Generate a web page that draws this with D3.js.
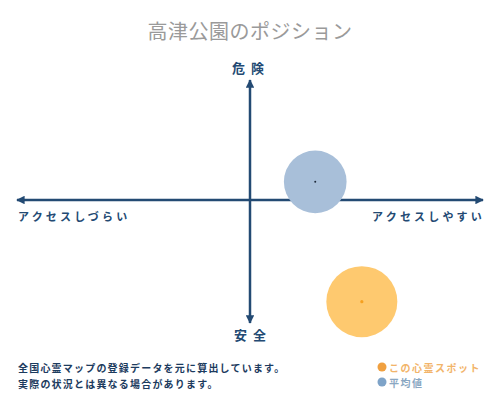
<!DOCTYPE html>
<html>
<head>
<meta charset="utf-8">
<script src="https://cdn.jsdelivr.net/npm/d3@7"></script>
<style>
  body { margin: 0; background: #fff; }
  text { font-family: "Noto Sans CJK JP", sans-serif; }
</style>
</head>
<body>
<div id="chart"></div>
<script>
// chart title and axis labels
var title = "高津公園のポジション";
var axisTop = "危険";
var axisBottom = "安全";
var axisLeft = "アクセスしづらい";
var axisRight = "アクセスしやすい";

// points: x = access (-1 hard .. 1 easy), y = danger (-1 safe .. 1 danger)
var pointNames = ["平均値", "この心霊スポット"];
var pointX = [0.28, 0.48];
var pointY = [0.15, -0.84];
var pointSize = [78, 100];

var notes = ["全国心霊マップの登録データを元に算出しています。", "実際の状況とは異なる場合があります。"];
var legendLabels = ["この心霊スポット", "平均値"];

var width = 500, height = 400;
var navy = "#234a73";

var svg = d3.select("#chart").append("svg")
  .attr("width", width)
  .attr("height", height);

var x = d3.scaleLinear().domain([-1, 1]).range([17, 483]);
var y = d3.scaleLinear().domain([-1, 1]).range([321, 79]);
var r = d3.scaleSqrt().domain([0, 100]).range([0, 35.5]);

// arrow heads
var defs = svg.append("defs");
defs.append("marker")
  .attr("id", "arrow")
  .attr("viewBox", "0 0 10 10")
  .attr("refX", 9).attr("refY", 5)
  .attr("markerWidth", 3.4).attr("markerHeight", 3.4)
  .attr("orient", "auto-start-reverse")
  .append("path")
  .attr("d", "M0,0L10,5L0,10z")
  .attr("fill", navy);

// title
svg.append("text")
  .attr("x", 250).attr("y", 30)
  .attr("text-anchor", "middle")
  .attr("dominant-baseline", "central")
  .attr("font-size", 20)
  .attr("letter-spacing", 0.5)
  .attr("fill", "#9a9a9a")
  .text(title);

// axes
svg.append("line")
  .attr("x1", x(-1)).attr("x2", x(1))
  .attr("y1", y(0)).attr("y2", y(0))
  .attr("stroke", navy).attr("stroke-width", 2.5)
  .attr("marker-start", "url(#arrow)")
  .attr("marker-end", "url(#arrow)");

svg.append("line")
  .attr("x1", x(0)).attr("x2", x(0))
  .attr("y1", y(1) + 1).attr("y2", y(-1) + 2)
  .attr("stroke", navy).attr("stroke-width", 2.5)
  .attr("marker-start", "url(#arrow)")
  .attr("marker-end", "url(#arrow)");

// axis labels
svg.append("text")
  .attr("x", 251).attr("y", 67)
  .attr("text-anchor", "middle").attr("dominant-baseline", "central")
  .attr("font-size", 13).attr("font-weight", "bold")
  .attr("letter-spacing", 6)
  .attr("fill", navy)
  .text(axisTop);

svg.append("text")
  .attr("x", 253).attr("y", 334)
  .attr("text-anchor", "middle").attr("dominant-baseline", "central")
  .attr("font-size", 13).attr("font-weight", "bold")
  .attr("letter-spacing", 6)
  .attr("fill", navy)
  .text(axisBottom);

svg.append("text")
  .attr("x", 18).attr("y", 216)
  .attr("dominant-baseline", "central")
  .attr("font-size", 11).attr("font-weight", "bold")
  .attr("letter-spacing", 3.2)
  .attr("fill", navy)
  .text(axisLeft);

svg.append("text")
  .attr("x", 485).attr("y", 216)
  .attr("text-anchor", "end")
  .attr("dominant-baseline", "central")
  .attr("font-size", 11).attr("font-weight", "bold")
  .attr("letter-spacing", 3.2)
  .attr("fill", navy)
  .text(axisRight);

// bubbles
var fills = ["#a8bfd9", "#fec96f"];
var dots = ["#1e2a3a", "#f5a020"];
var points = pointNames.map(function(d, i) {
  return { name: d, x: pointX[i], y: pointY[i], size: pointSize[i] };
});

svg.selectAll("circle.bubble")
  .data(points).enter()
  .append("circle")
  .attr("class", "bubble")
  .attr("cx", function(d) { return x(d.x); })
  .attr("cy", function(d) { return y(d.y); })
  .attr("r", function(d) { return r(d.size); })
  .attr("fill", function(d, i) { return fills[i]; });

svg.selectAll("circle.center")
  .data(points).enter()
  .append("circle")
  .attr("class", "center")
  .attr("cx", function(d) { return x(d.x); })
  .attr("cy", function(d) { return y(d.y); })
  .attr("r", function(d, i) { return i == 0 ? 1 : 1.6; })
  .attr("fill", function(d, i) { return dots[i]; });

// notes
svg.selectAll("text.note")
  .data(notes).enter()
  .append("text")
  .attr("class", "note")
  .attr("x", 18)
  .attr("y", function(d, i) { return 367 + i * 16; })
  .attr("dominant-baseline", "central")
  .attr("font-size", 10).attr("font-weight", "bold")
  .attr("letter-spacing", 1.2)
  .attr("fill", "#1c3b5e")
  .text(function(d) { return d; });

// legend
var legendDot = ["#f0a040", "#7ea3c8"];
var legendText = ["#f2b46a", "#8aa7c2"];
var legend = svg.selectAll("g.legend")
  .data(legendLabels).enter()
  .append("g")
  .attr("class", "legend")
  .attr("transform", function(d, i) { return "translate(382," + (367 + i * 15) + ")"; });

legend.append("circle")
  .attr("r", 4.5)
  .attr("fill", function(d, i) { return legendDot[i]; });

legend.append("text")
  .attr("x", 7)
  .attr("dominant-baseline", "central")
  .attr("font-size", 10).attr("font-weight", "bold")
  .attr("letter-spacing", 1.5)
  .attr("fill", function(d, i) { return legendText[i]; })
  .text(function(d) { return d; });
</script>
</body>
</html>
